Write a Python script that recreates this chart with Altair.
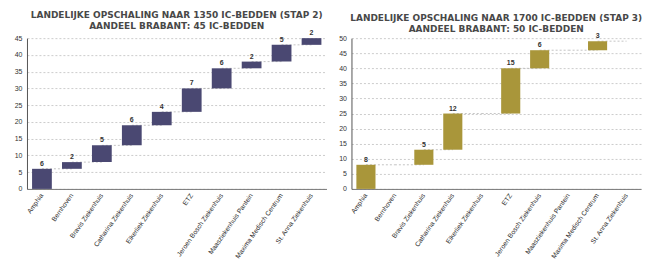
import altair as alt
import pandas as pd

categories = [
    "Amphia", "Bernhoven", "Bravis Ziekenhuis", "Catharina Ziekenhuis",
    "Elkerliek Ziekenhuis", "ETZ", "Jeroen Bosch Ziekenhuis",
    "Maasziekenhuis Pantein", "Maxima Medisch Centrum", "St. Anna Ziekenhuis",
]
step2_values = [6, 2, 5, 6, 4, 7, 6, 2, 5, 2]
step3_values = [8, 0, 5, 12, 0, 15, 6, 0, 3, 0]
step2_title = ["LANDELIJKE OPSCHALING NAAR 1350 IC-BEDDEN (STAP 2)",
               "AANDEEL BRABANT: 45 IC-BEDDEN"]
step3_title = ["LANDELIJKE OPSCHALING NAAR 1700 IC-BEDDEN (STAP 3)",
               "AANDEEL BRABANT: 50 IC-BEDDEN"]
step2_max = 45
step3_max = 50
step2_color = "#4a4872"
step3_color = "#a9963a"


def frames(values):
    rows, conn = [], []
    total = 0
    for i, (c, v) in enumerate(zip(categories, values)):
        start = total
        total += v
        rows.append({"cat": c, "value": v, "start": start, "end": total,
                     "label": str(v) if v > 0 else ""})
        if i < len(categories) - 1:
            conn.append({"cat": c, "next": categories[i + 1], "end": total})
    return pd.DataFrame(rows), pd.DataFrame(conn)


def panel(values, title, ymax, color, width):
    df, conn = frames(values)
    xenc = alt.X(
        "cat:N",
        scale=alt.Scale(domain=categories, paddingInner=0.34, paddingOuter=0.17),
        axis=alt.Axis(title=None, labelAngle=-55, labelFontSize=6.7, ticks=False,
                      labelFont="Liberation Sans", labelColor="#2a2a2a",
                      domainColor="#777", domainWidth=1, labelPadding=5),
    )
    yscale = alt.Scale(domain=[0, ymax], nice=False, zero=True)
    yaxis = alt.Axis(title=None, values=list(range(0, ymax + 1, 5)), ticks=False,
                     labelFontSize=7, labelFont="Liberation Sans", labelColor="#333",
                     labelOverlap=False, labelPadding=5, domainColor="#555", domainWidth=1,
                     grid=True, gridDash=[2, 2], gridColor="#b5b5b5", gridWidth=0.7)
    rules = alt.Chart(conn).mark_rule(color="#aaaaaa", strokeDash=[2, 2], strokeWidth=0.7).encode(
        x=xenc, x2="next:N", y=alt.Y("end:Q", scale=yscale, axis=yaxis)
    )
    bars = alt.Chart(df).transform_filter("datum.value > 0").mark_bar(color=color).encode(
        x=xenc, y=alt.Y("start:Q", scale=yscale, axis=yaxis), y2="end:Q"
    )
    text = alt.Chart(df).transform_filter("datum.value > 0").mark_text(
        dy=-5, fontSize=7, font="Liberation Sans", color="#333", fontWeight="bold"
    ).encode(x=xenc, y=alt.Y("end:Q", scale=yscale, axis=yaxis), text="label:N")
    return alt.layer(rules, bars, text).properties(
        width=width, height=151,
        title=alt.TitleParams(text=title, fontSize=9, font="DejaVu Sans", fontWeight="bold",
                              color="#484848", anchor="middle", offset=-2, lineHeight=11),
    )


left = panel(step2_values, step2_title, step2_max, step2_color, 300)
right = panel(step3_values, step3_title, step3_max, step3_color, 290)

chart = alt.hconcat(left, right, spacing=12).properties(
    padding={"left": 6, "top": 3, "right": 0, "bottom": 0}
).configure_view(stroke=None)

chart.save("out.html", embed_options={"renderer": "svg", "actions": False})
